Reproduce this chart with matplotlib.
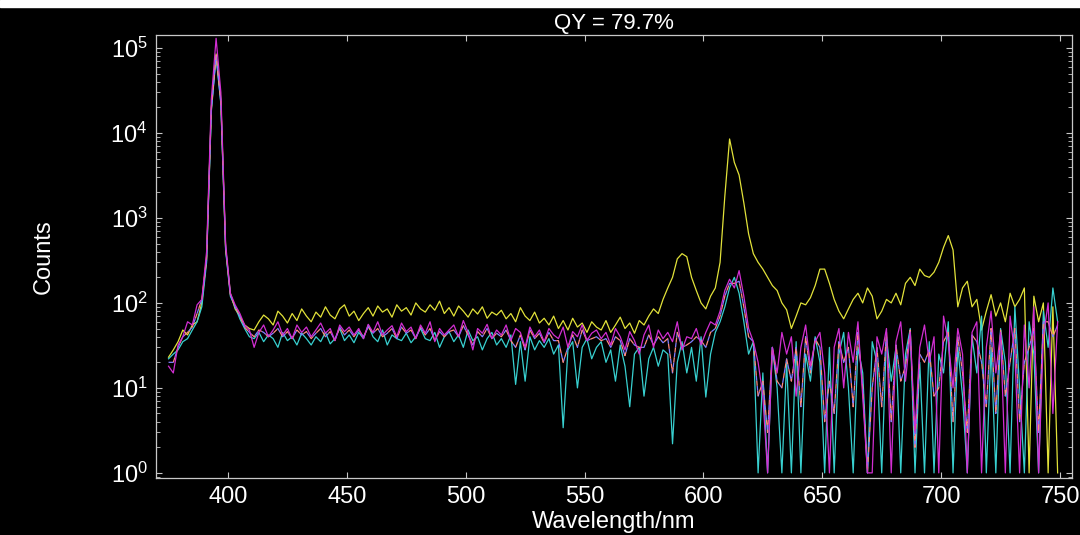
import numpy as np
import matplotlib.pyplot as plt
from matplotlib.patches import Rectangle

plt.rcParams["font.family"] = ["Liberation Sans", "DejaVu Sans"]
plt.rcParams["mathtext.default"] = "regular"

TITLE = "QY = 79.7%"
X_LABEL = "Wavelength/nm"
Y_LABEL = "Counts"

# wavelength grid, 2 nm step
wavelength = np.arange(375, 750, 2)

# sample emission (yellow)
sample = [
    23, 28, 35, 48, 42, 55, 60, 100, 350, 2.0e4,
    8.5e4, 2.5e4, 450, 130, 85, 70, 55, 50, 48, 60,
    72, 65, 55, 80, 70, 58, 75, 62, 85, 70,
    60, 78, 68, 90, 72, 65, 85, 95, 70, 80,
    62, 75, 88, 70, 92, 78, 85, 68, 95, 80,
    88, 72, 100, 85, 78, 95, 82, 105, 75, 88,
    70, 92, 80, 68, 85, 74, 90, 66, 78, 72,
    82, 65, 75, 60, 88, 70, 62, 78, 58, 66,
    55, 70, 50, 62, 48, 66, 52, 58, 45, 60,
    52, 48, 62, 45, 55, 68, 50, 58, 44, 62,
    55, 70, 85, 75, 110, 150, 200, 330, 380, 350,
    200, 140, 100, 85, 120, 150, 300, 1800, 8500, 4500,
    3200, 1500, 650, 380, 300, 250, 200, 160, 140, 100,
    83, 50, 70, 100, 95, 115, 160, 250, 250, 170,
    110, 80, 65, 85, 110, 130, 100, 150, 120, 65,
    80, 110, 100, 130, 95, 170, 200, 160, 250, 210,
    200, 230, 300, 450, 620, 420, 90, 150, 180, 90,
    110, 48, 80, 125, 70, 100, 60, 130, 90, 110,
    150, 1, 120, 60, 100, 1, 90, 1,
]

# blank / scatter trace (magenta)
blank = [
    18, 15, 32, 40, 60, 55, 95, 110, 400, 2.5e4,
    1.3e5, 3.0e4, 500, 130, 95, 75, 55, 48, 30, 45,
    55, 40, 48, 60, 42, 50, 38, 55, 45, 52,
    40, 48, 58, 44, 50, 36, 55, 46, 52, 42,
    50, 38, 56, 45, 60, 42, 48, 54, 40, 58,
    46, 52, 38, 55, 44, 60, 35, 50, 42, 48,
    55, 40, 62, 45, 28, 50, 44, 56, 38, 48,
    42, 55, 36, 50, 45, 30, 52, 40, 48, 35,
    50, 42, 38, 52, 30, 46, 40, 55, 36, 44,
    48, 38, 45, 32, 50, 40, 28, 46, 36, 25,
    42, 55, 30, 48, 38, 45, 35, 60, 28, 40,
    38, 50, 32, 45, 60, 55, 80, 140, 190, 150,
    240, 120, 50, 35, 20, 8, 1, 30, 15, 45,
    25, 40, 8, 30, 55, 18, 35, 45, 15, 1,
    30, 50, 10, 45, 20, 60, 8, 1, 1, 40,
    25, 50, 1, 35, 60, 12, 45, 3, 30, 55,
    20, 40, 1, 70, 35, 10, 50, 25, 1, 45,
    60, 1, 30, 80, 15, 45, 1, 70, 25, 1,
    55, 10, 90, 1, 40, 100, 5, 60,
]

# second scan (cyan)
scan2 = [
    22, 25, 28, 35, 38, 48, 60, 90, 300, 1.8e4,
    8.0e4, 2.2e4, 420, 120, 90, 65, 50, 40, 38, 45,
    35, 42, 38, 30, 45, 36, 40, 32, 44, 38,
    32, 40, 35, 45, 33, 38, 50, 36, 42, 34,
    45, 38, 55, 40, 35, 48, 32, 42, 38, 36,
    44, 34, 40, 50, 38, 36, 45, 30, 40, 46,
    35, 42, 30, 48, 36, 40, 28, 38, 45, 32,
    38, 30, 42, 11, 35, 12, 40, 28, 36, 30,
    38, 25, 32, 3.4, 28, 35, 10, 30, 38, 22,
    30, 35, 20, 28, 12, 32, 18, 6, 25, 30,
    8, 22, 30, 18, 28, 25, 2.2, 20, 35, 15,
    30, 12, 40, 7.8, 25, 45, 60, 90, 150, 200,
    130, 60, 25, 35, 1, 15, 1, 30, 10, 1,
    20, 1, 35, 1, 25, 12, 40, 20, 1, 30,
    1, 25, 45, 10, 1, 30, 15, 1, 35, 20,
    1, 40, 12, 30, 1, 25, 50, 1, 20, 1,
    35, 1, 25, 15, 60, 1, 30, 8, 1, 40,
    15, 70, 1, 30, 1, 50, 20, 1, 90, 10,
    1, 60, 25, 1, 80, 30, 150, 60,
]

# reference trace (dashed, two colours)
reference = [
    20, 20, 30, 40, 45, 52, 75, 110, 320, 1.9e4,
    8.2e4, 2.3e4, 440, 125, 90, 70, 52, 45, 40, 48,
    45, 40, 44, 50, 40, 46, 38, 48, 42, 46,
    38, 44, 50, 40, 46, 36, 52, 42, 48, 40,
    48, 40, 52, 44, 50, 40, 44, 50, 38, 52,
    44, 48, 38, 52, 42, 50, 36, 46, 40, 46,
    48, 40, 54, 42, 32, 46, 40, 50, 38, 44,
    40, 48, 36, 30, 42, 28, 48, 38, 44, 34,
    45, 36, 36, 20, 30, 42, 30, 48, 36, 38,
    40, 36, 38, 30, 40, 36, 24, 38, 32, 30,
    30, 42, 32, 40, 34, 38, 15, 45, 30, 32,
    35, 40, 36, 30, 45, 50, 70, 120, 170, 170,
    180, 90, 40, 35, 8, 12, 3, 30, 12, 10,
    22, 12, 30, 6, 40, 15, 38, 30, 4, 12,
    5, 35, 20, 30, 6, 45, 10, 1, 10, 30,
    6, 45, 4, 32, 12, 18, 48, 2, 25, 20,
    28, 8, 10, 35, 45, 4, 40, 15, 3, 42,
    35, 20, 6, 50, 5, 48, 8, 20, 50, 4,
    20, 30, 50, 3, 60, 60, 40, 55,
]

X_TICKS = [400, 450, 500, 550, 600, 650, 700, 750]

fig = plt.figure(figsize=(10.8, 5.35), dpi=100, facecolor="black")
ax = fig.add_axes([0.1444, 0.1065, 0.8481, 0.828], facecolor="black")

lw = 0.9
ax.plot(wavelength, sample, color="#e2e23a", lw=lw)
ax.plot(wavelength, scan2, color="#38d0d0", lw=lw)
ax.plot(wavelength, reference, color="#8080ff", lw=lw, ls=(0, (4, 4)))
ax.plot(wavelength, reference, color="#ff8a80", lw=lw, ls=(4, (4, 4)))
ax.plot(wavelength, blank, color="#d22ed2", lw=lw)

ax.set_yscale("log")
ax.set_xlim(369.7, 755)
ax.set_ylim(0.87, 1.42e5)
ax.set_xticks(X_TICKS)

for s in ax.spines.values():
    s.set_color("#c8c8c8")
    s.set_linewidth(0.9)
ax.tick_params(which="both", direction="in", colors="#c8c8c8",
               top=True, right=True, labelcolor="white", labelsize=17)
ax.tick_params(which="major", length=4, pad=6)
ax.tick_params(which="minor", length=3)
ax.tick_params(axis="x", which="minor", bottom=False, top=False)

ax.set_title(TITLE, color="white", fontsize=16, pad=4)
ax.set_xlabel(X_LABEL, color="white", fontsize=17)
ax.set_ylabel(Y_LABEL, color="white", fontsize=17)
ax.xaxis.set_label_coords(0.5, -0.074)
ax.yaxis.set_label_coords(-0.11, 0.5)

# white strip seen at the top of the capture
fig.add_artist(Rectangle((0, 1 - 7 / 535), 1, 7 / 535, transform=fig.transFigure,
                         color="white", zorder=10))

fig.savefig("out.png", dpi=100, facecolor="black")
